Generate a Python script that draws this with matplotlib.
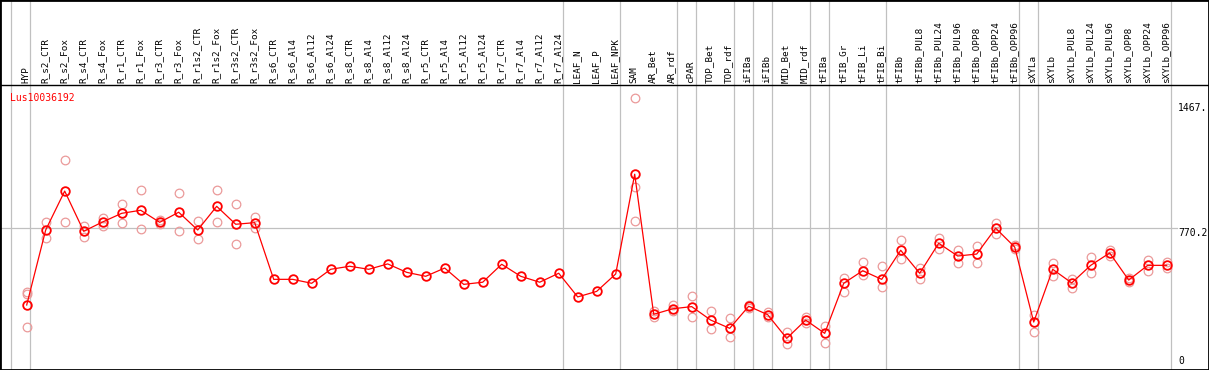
#! /usr/bin/python3

import matplotlib
matplotlib.use("Agg")
import matplotlib.pyplot as plt
import matplotlib.transforms as mtransforms
import numpy as np


gene = "Lus10036192"

samples = [
	"HYP", "R_s2_CTR", "R_s2_Fox", "R_s4_CTR", "R_s4_Fox", "R_r1_CTR", "R_r1_Fox",
	"R_r3_CTR", "R_r3_Fox", "R_r1s2_CTR", "R_r1s2_Fox", "R_r3s2_CTR", "R_r3s2_Fox",
	"R_s6_CTR", "R_s6_Al4", "R_s6_Al12", "R_s6_Al24", "R_s8_CTR", "R_s8_Al4",
	"R_s8_Al12", "R_s8_Al24", "R_r5_CTR", "R_r5_Al4", "R_r5_Al12", "R_r5_Al24",
	"R_r7_CTR", "R_r7_Al4", "R_r7_Al12", "R_r7_Al24", "LEAF_N", "LEAF_P", "LEAF_NPK",
	"SAM", "AR_Bet", "AR_rdf", "cPAR", "TOP_Bet", "TOP_rdf", "iFIBa", "iFIBb",
	"MID_Bet", "MID_rdf", "tFIBa", "tFIB_Gr", "tFIB_Li", "tFIB_Bi", "tFIBb",
	"tFIBb_PUL8", "tFIBb_PUL24", "tFIBb_PUL96", "tFIBb_OPP8", "tFIBb_OPP24",
	"tFIBb_OPP96", "sXYLa", "sXYLb", "sXYLb_PUL8", "sXYLb_PUL24", "sXYLb_PUL96",
	"sXYLb_OPP8", "sXYLb_OPP24", "sXYLb_OPP96",
]

# mean expression per sample
means = [
	340, 758, 975, 751, 803, 851, 868, 801, 857, 758, 890, 790, 799,
	483, 483, 461, 539, 556, 539, 569, 522, 500, 546, 455, 467, 567, 500, 467, 517,
	385, 416, 513,
	1069, 288, 319, 331, 256, 210, 333, 286, 154, 256, 182, 461, 531, 483,
	645, 517, 684, 613, 624, 768, 663,
	245, 539, 463, 561, 630, 479, 561, 561,
]

# replicates (None where no replicate is drawn)
N = None
rep_a = [
	411, 803, 1147, 780, 827, 903, 981, 814, 964, 808, 981, 903, 832,
	N, N, N, N, N, N, N, N, N, N, N, N, N, N, N, N,
	N, N, N,
	1492, 307, 340, 390, 307, 268, 340, 301, 190, 271, 225, 491, 578, 556,
	701, 545, 713, 647, 669, 799, 674,
	286, 574, 483, 608, 645, 491, 591, 581,
]
rep_b = [
	216, 712, 803, 717, 780, 795, 764, 792, 751, 706, 801, 678, 771,
	N, N, N, N, N, N, N, N, N, N, N, N, N, N, N, N,
	N, N, N,
	807, 275, 308, 271, 205, 160, 323, 275, 124, 238, 127, 411, 507, 439,
	595, 487, 654, 574, 574, 736, 652,
	188, 503, 433, 517, 613, 468, 530, 545,
]
rep_c = [401] + [N] * 31 + [996] + [N] * 28

# sample numbers after which a separator is drawn (0 = before the first one)
group_ends = [0, 1, 29, 32, 35, 36, 38, 39, 40, 42, 43, 46, 53, 54, 61]

scale_labels = ["1467.", "770.2", "0"]
scale_values = [1467, 770.2, 0]


def as_float(values):
	return np.array([np.nan if v is None else v for v in values], dtype=float)


fig = plt.figure(figsize=(12.09, 3.70), dpi=100)
ax = fig.add_axes([0, 0, 1, 1])

x = np.arange(len(samples))
ax.set_xlim(-1.405, 62.226)
ax.set_ylim(-22.3, 2040)

header_y = 0.7703  # divider between the labels and the plot (axes fraction)
trans = mtransforms.blended_transform_factory(ax.transData, ax.transAxes)

# grid
grid_c = "#c0c0c0"
for k in group_ends:
	ax.axvline(k - 1 + 0.2, color=grid_c, lw=0.9, zorder=1)
ax.axhline(770.2, xmax=1177 / 1209, color=grid_c, lw=0.9, zorder=1)
ax.plot([0, 1], [header_y, header_y], transform=ax.transAxes, color="black", lw=1.0, zorder=3)

# replicates
pink = "#eb9a9a"
for reps in (rep_a, rep_b, rep_c):
	ax.plot(x, as_float(reps), "o", ms=6.2, mfc="none", mec=pink, mew=0.9, zorder=2)

# means
ax.plot(x, means, "-", color="red", lw=0.9, zorder=4)
ax.plot(x, means, "o", ms=6.2, mfc="none", mec="red", mew=1.3, zorder=5)

# sample labels
for xi, name in zip(x, samples):
	ax.text(xi - 0.06, 0.7757, name, transform=trans, rotation=90, ha="center", va="bottom",
		fontsize=6.7, family="DejaVu Sans Mono", color="black")

ax.text(10 / 1209, 1 - 97.7 / 370, gene, transform=ax.transAxes, ha="left", va="center",
	fontsize=7, family="DejaVu Sans Mono", color="red")

for lab, val in zip(scale_labels, scale_values):
	ax.text(60.59, val, lab, ha="left", va="top" if val > 0 else "bottom",
		fontsize=7, family="DejaVu Sans Mono", color="black")

ax.set_xticks([])
ax.set_yticks([])
for sp in ax.spines.values():
	sp.set_color("black")
	sp.set_linewidth(2.0)

fig.savefig("out.png", dpi=100, facecolor="white")
